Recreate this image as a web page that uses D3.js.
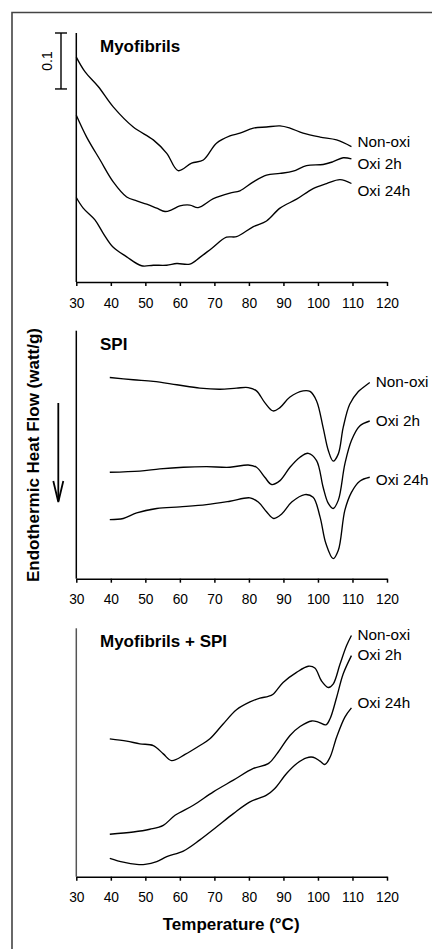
<!DOCTYPE html>
<html>
<head>
<meta charset="utf-8">
<script src="https://cdn.jsdelivr.net/npm/d3@7"></script>
<style>
  body { margin: 0; background: #fff; }
  text { font-family: "Liberation Sans", Arial, sans-serif; fill: #000; }
</style>
</head>
<body>
<div id="chart-area"></div>
<script>
/*
*    DSC thermograms: Myofibrils, SPI, Myofibrils + SPI
*    values are heat flow (watt/g), relative to panel baseline
*/

// x tick labels (temperature, °C)
var tempTicks = [30, 40, 50, 60, 70, 80, 90, 100, 110, 120];
var seriesNames = ["Non-oxi", "Oxi 2h", "Oxi 24h"];
var panelTitles = ["Myofibrils", "SPI", "Myofibrils + SPI"];

// Myofibrils  [temperature, heat flow]
var myoNonOxi = [[30,0.402],[32.5,0.376],[36.4,0.349],[40.7,0.313],[46.5,0.277],[52.3,0.254],
    [56.2,0.230],[59.5,0.199],[63.4,0.2125],[66.8,0.218],[70.6,0.248],[74.5,0.261],[77.4,0.266],
    [81.3,0.275],[85.1,0.277],[89,0.279],[91.9,0.275],[95.7,0.266],[100.6,0.259],[105.4,0.254],[109.7,0.242]];
var myoOxi2h = [[30,0.298],[33,0.259],[36.9,0.218],[40.7,0.179],[44.6,0.152],[47.5,0.145],
    [50.4,0.139],[53.3,0.132],[55.7,0.126],[57.6,0.129],[60,0.136],[62.9,0.1375],[65.3,0.133],
    [69.7,0.149],[74.5,0.159],[77.4,0.163],[81.3,0.179],[85.1,0.191],[89,0.194],[92.8,0.198],
    [96.7,0.208],[101.5,0.210],[104.4,0.215],[107.3,0.222],[109.7,0.220]];
var myoOxi24h = [[30,0.151],[32,0.132],[35.4,0.111],[37.8,0.087],[40.7,0.062],[44.6,0.045],
    [48.9,0.029],[52.3,0.030],[56.2,0.030],[59.1,0.033],[62.9,0.032],[65.8,0.044],[69.2,0.060],
    [73.5,0.080],[76.4,0.081],[81.3,0.099],[85.1,0.109],[89,0.132],[93.8,0.148],[98.6,0.167],
    [102.5,0.176],[106.4,0.183],[109.7,0.176]];

// SPI
var spiNonOxi = [[39.7,0.361],[46.5,0.357],[52.3,0.354],[59.1,0.348],[65.8,0.342],[71.6,0.340],
    [76.4,0.342],[79.8,0.343],[82.2,0.337],[84.6,0.316],[87,0.301],[89,0.307],[91.9,0.326],
    [95.7,0.337],[97.7,0.336],[99.6,0.319],[101.5,0.271],[103,0.230],[104.4,0.211],[105.9,0.224],
    [107.3,0.271],[109.2,0.313],[111.7,0.336],[113.1,0.343],[115,0.352]];
var spiOxi2h = [[39.7,0.191],[48.4,0.193],[54.2,0.197],[61,0.200],[67.7,0.201],[74.5,0.200],
    [79.8,0.204],[82.2,0.200],[84.6,0.182],[86.6,0.169],[89,0.176],[91.9,0.200],[94.8,0.218],
    [97.2,0.225],[99.6,0.212],[101.5,0.164],[103,0.135],[104.4,0.126],[105.9,0.141],[107.8,0.206],
    [109.7,0.248],[112.1,0.274],[115,0.283]];
var spiOxi24h = [[39.7,0.106],[43.6,0.108],[47.5,0.118],[53.3,0.126],[60,0.129],[67.7,0.133],
    [74.5,0.139],[80.3,0.145],[82.7,0.1375],[85.1,0.120],[87.2,0.108],[89.5,0.116],[92.4,0.1375],
    [96.2,0.151],[98.6,0.146],[100.6,0.111],[102.3,0.063],[104.4,0.036],[105.9,0.051],[107.8,0.123],
    [109.7,0.155],[112.1,0.175],[115,0.182]];

// Myofibrils + SPI
var mixNonOxi = [[39.7,0.247],[44.6,0.243],[48.4,0.238],[52.3,0.235],[55.2,0.220],[57.6,0.208],
    [61.5,0.219],[65.8,0.235],[68.7,0.247],[72.6,0.274],[76.4,0.299],[80.3,0.313],[83.2,0.320],
    [85.6,0.323],[87,0.327],[89.9,0.348],[93.8,0.366],[97.2,0.377],[99.1,0.374],[101,0.351],
    [103,0.339],[104.4,0.345],[106.4,0.381],[108.3,0.414],[109.7,0.432]];
var mixOxi2h = [[39.7,0.076],[46.5,0.080],[51.3,0.085],[55.2,0.092],[58.6,0.110],[63.9,0.128],
    [69.7,0.152],[75.5,0.173],[81.3,0.194],[85.6,0.2025],[88.1,0.220],[91.9,0.253],[94.8,0.269],
    [98.2,0.279],[100.1,0.277],[102.3,0.272],[103.5,0.283],[105.4,0.321],[107.3,0.363],[109.7,0.396]];
var mixOxi24h = [[39.7,0.033],[43.6,0.026],[47.5,0.022],[49.9,0.022],[53.3,0.027],[56.2,0.036],
    [61,0.046],[65.8,0.066],[70.6,0.089],[75.5,0.113],[80.3,0.134],[85.1,0.146],[87.5,0.158],
    [90.9,0.185],[93.8,0.2025],[96.7,0.213],[98.6,0.214],[100.6,0.207],[102,0.201],[103.5,0.214],
    [105.4,0.250],[107.8,0.286],[109.7,0.3025]];

var panelSeries = [
    [myoNonOxi, myoOxi2h, myoOxi24h],
    [spiNonOxi, spiOxi2h, spiOxi24h],
    [mixNonOxi, mixOxi2h, mixOxi24h]
];

var width = 432, height = 949;

var svg = d3.select("#chart-area").append("svg")
    .attr("width", width)
    .attr("height", height);

// Frame (top and left edges only)
svg.append("path")
    .attr("d", "M12,949 L12,12.5 L432,12.5")
    .attr("fill", "none")
    .attr("stroke", "#444")
    .attr("stroke-width", 1.6);

// Shared x-scale
var x = d3.scaleLinear().domain([30, 120]).range([76.3, 387]);

// Panel layout: top and bottom of each y axis
var panels = [
    { top: 33, bottom: 282 },
    { top: 330.7, bottom: 578.7 },
    { top: 628.3, bottom: 876.7 }
];
// label nudges (px) relative to the last point of each curve
var labelNudge = [[-5, 5, 7], [-1, 0, 2], [-1, -1, -5]];

var line = d3.line()
    .curve(d3.curveCatmullRom.alpha(0.5));

panels.forEach(function(p, i) {
    var y = d3.scaleLinear().domain([0, 0.445]).range([p.bottom, p.top]);

    // Y axis (no ticks)
    svg.append("line")
        .attr("x1", x(30)).attr("x2", x(30))
        .attr("y1", p.top).attr("y2", p.bottom)
        .attr("stroke", i === 2 ? "#555" : "#000")
        .attr("stroke-width", 1.5);

    // X axis
    var xAxisCall = d3.axisBottom(x)
        .tickValues(tempTicks)
        .tickSize(4)
        .tickSizeOuter(0)
        .tickPadding(12);
    var xAxis = svg.append("g")
        .attr("transform", "translate(0," + p.bottom + ")")
        .call(xAxisCall);
    xAxis.select(".domain").attr("stroke-width", 1.5);
    xAxis.selectAll(".tick line").attr("stroke-width", 1.5);
    xAxis.selectAll("text")
        .attr("font-size", "13.8px")
        .attr("font-family", "'Liberation Sans', Arial, sans-serif")
        .attr("fill", "#000");

    // Panel title
    svg.append("text")
        .attr("x", 100)
        .attr("y", p.top + 19)
        .attr("font-size", "17px")
        .attr("font-weight", "bold")
        .text(panelTitles[i]);

    // Curves
    line.x(function(d) { return x(d[0]); })
        .y(function(d) { return y(d[1]); });

    panelSeries[i].forEach(function(s, j) {
        svg.append("path")
            .attr("d", line(s))
            .attr("fill", "none")
            .attr("stroke", "#000")
            .attr("stroke-width", 1.35);

        var last = s[s.length - 1];
        svg.append("text")
            .attr("x", x(last[0]) + 6)
            .attr("y", y(last[1]) + labelNudge[i][j])
            .attr("dy", "0.35em")
            .attr("font-size", "15.3px")
            .text(seriesNames[j]);
    });

    // Scale bar (0.1 watt/g) on first panel
    if (i === 0) {
        var barX = 61,
            y0 = y(0.445),
            y1 = y(0.445 - 0.1);
        var bar = svg.append("g")
            .attr("stroke", "#000")
            .attr("stroke-width", 1.4);
        bar.append("line").attr("x1", barX).attr("x2", barX).attr("y1", y0).attr("y2", y1);
        bar.append("line").attr("x1", barX - 6).attr("x2", barX + 6).attr("y1", y0).attr("y2", y0);
        bar.append("line").attr("x1", barX - 6).attr("x2", barX + 6).attr("y1", y1).attr("y2", y1);
        svg.append("text")
            .attr("transform", "translate(52," + ((y0 + y1) / 2) + ") rotate(-90)")
            .attr("text-anchor", "middle")
            .attr("font-size", "14px")
            .text("0.1");
    }
});

// Y-axis title
svg.append("text")
    .attr("transform", "translate(39,455) rotate(-90)")
    .attr("text-anchor", "middle")
    .attr("font-size", "17px")
    .attr("font-weight", "bold")
    .text("Endothermic Heat Flow (watt/g)");

// Downward arrow
var arrow = svg.append("g")
    .attr("fill", "none")
    .attr("stroke", "#000")
    .attr("stroke-width", 1.8);
arrow.append("line").attr("x1", 58.3).attr("x2", 58.3).attr("y1", 403).attr("y2", 501);
arrow.append("path").attr("d", "M53.3,481 L58.3,502 L63.3,481");

// X-axis title
svg.append("text")
    .attr("x", x(30) + (x(120) - x(30)) * 0.5 - 0.5)
    .attr("y", 930)
    .attr("text-anchor", "middle")
    .attr("font-size", "17px")
    .attr("font-weight", "bold")
    .text("Temperature (°C)");
</script>
</body>
</html>
